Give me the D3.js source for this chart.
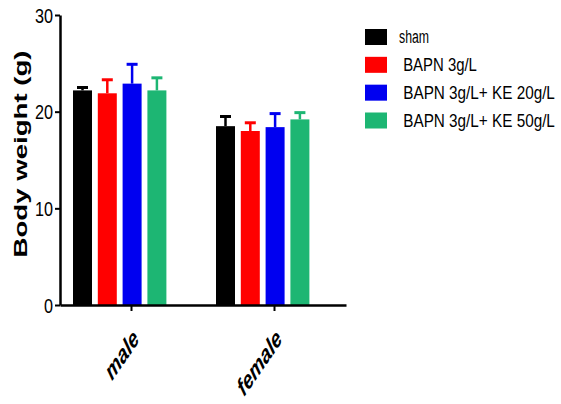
<!DOCTYPE html>
<html>
<head>
<meta charset="utf-8">
<script src="https://cdn.jsdelivr.net/npm/d3@7"></script>
<style>
  html, body { margin: 0; padding: 0; background: #fff; }
  svg { display: block; }
  text { font-family: "Liberation Sans", Arial, sans-serif; fill: #000; }
</style>
</head>
<body>
<svg id="chart" width="561" height="404"></svg>
<script>
// Body weight (g), mean and upper error, by sex and treatment group
const groups = ["male", "female"];
const series = ["sham", "BAPN 3g/L", "BAPN 3g/L+ KE 20g/L", "BAPN 3g/L+ KE 50g/L"];
const legendLabels = ["sham", " BAPN 3g/L", " BAPN 3g/L+ KE 20g/L", " BAPN 3g/L+ KE 50g/L"];
const colors = ["#000000", "#ff0000", "#0000f0", "#1db673"];
const maleMean = [22.2, 21.9, 22.9, 22.2];
const maleErr = [0.3, 1.4, 2.0, 1.3];
const femaleMean = [18.5, 18.0, 18.4, 19.2];
const femaleErr = [1.0, 0.85, 1.4, 0.7];
const yTicks = [0, 10, 20, 30];

const means = { male: maleMean, female: femaleMean };
const errs = { male: maleErr, female: femaleErr };

const svg = d3.select("#chart");

const y = d3.scaleLinear().domain([0, 30]).range([305, 15]);
const x = d3.scaleBand().domain(groups).range([60, 346]).padding(0);
const xs = d3.scaleBand().domain(series).range([13, 106.4]).paddingInner(0.234).paddingOuter(0);

// squeeze a text horizontally to a target width around its anchor
function squeeze(sel, width, ax, ay) {
  sel.each(function (d, i) {
    const node = this;
    const w = node.getComputedTextLength();
    const tw = typeof width === "function" ? width(d, i) : width;
    const s = Math.min(1, tw / w);
    const px = typeof ax === "function" ? ax(d, i) : ax;
    const py = typeof ay === "function" ? ay(d, i) : ay;
    d3.select(node).attr("transform", `translate(${px},${py}) scale(${s},1)`);
  });
}

// bars with upper error bars
const g = svg.append("g");
groups.forEach(grp => {
  series.forEach((s, i) => {
    const bx = x(grp) + xs(s);
    const bw = xs.bandwidth();
    const v = means[grp][i];
    const e = errs[grp][i];
    g.append("rect")
      .attr("x", bx).attr("y", y(v))
      .attr("width", bw).attr("height", y(0) - y(v))
      .attr("fill", colors[i]);
    const cx = bx + bw / 2;
    g.append("line")
      .attr("x1", cx).attr("x2", cx)
      .attr("y1", y(v)).attr("y2", y(v + e))
      .attr("stroke", colors[i]).attr("stroke-width", 2.5);
    g.append("line")
      .attr("x1", cx - 5.5).attr("x2", cx + 5.5)
      .attr("y1", y(v + e)).attr("y2", y(v + e))
      .attr("stroke", colors[i]).attr("stroke-width", 3);
  });
});

// y axis
const yAxis = svg.append("g").attr("transform", "translate(60,0)")
  .call(d3.axisLeft(y).tickValues(yTicks).tickSize(5).tickPadding(3).tickSizeOuter(0));
yAxis.select(".domain").attr("stroke", "#000").attr("stroke-width", 2.5);
yAxis.selectAll(".tick line").attr("stroke", "#000").attr("stroke-width", 2);
yAxis.selectAll(".tick text")
  .style("font-size", "20px")
  .attr("x", 0)
  .attr("dy", "0.36em")
  .call(squeeze, d => String(d).length * 9, -7, 0);

// x axis
const xAxis = svg.append("g").attr("transform", "translate(0,305)")
  .call(d3.axisBottom(x).tickSize(6).tickSizeOuter(0).tickFormat(""));
xAxis.select(".domain").attr("stroke", "#000").attr("stroke-width", 2.5);
xAxis.selectAll(".tick line").attr("stroke", "#000").attr("stroke-width", 2);

// category labels, slanted
svg.append("g").selectAll("text").data(groups).join("text")
  .attr("transform", d => `translate(${x(d) + x.bandwidth() / 2 + 5},${335}) scale(1,1.45) rotate(-45)`)
  .attr("text-anchor", "end")
  .attr("dy", "0.3em")
  .style("font-size", "17.5px")
  .style("font-weight", "bold")
  .style("font-style", "italic")
  .text(d => d);

// y axis title
svg.append("text")
  .attr("transform", "translate(27,154) rotate(-90)")
  .attr("text-anchor", "middle")
  .style("font-size", "18px")
  .style("font-weight", "bold")
  .attr("textLength", 207)
  .attr("lengthAdjust", "spacingAndGlyphs")
  .text("Body weight (g)");

// legend
const legendWidths = [30, 78, 156, 156];
const leg = svg.append("g");
const rowY = d3.scalePoint().domain(series).range([37, 120.5]);
series.forEach((s, i) => {
  const cy = rowY(s);
  leg.append("rect")
    .attr("x", 365).attr("y", cy - 8)
    .attr("width", 22).attr("height", 16)
    .attr("fill", colors[i]);
  leg.append("text")
    .attr("x", 0).attr("y", 0)
    .attr("dy", "0.36em")
    .style("font-size", "18px")
    .attr("xml:space", "preserve")
    .style("white-space", "pre")
    .text(legendLabels[i])
    .call(squeeze, legendWidths[i], 399, cy);
});
</script>
</body>
</html>
